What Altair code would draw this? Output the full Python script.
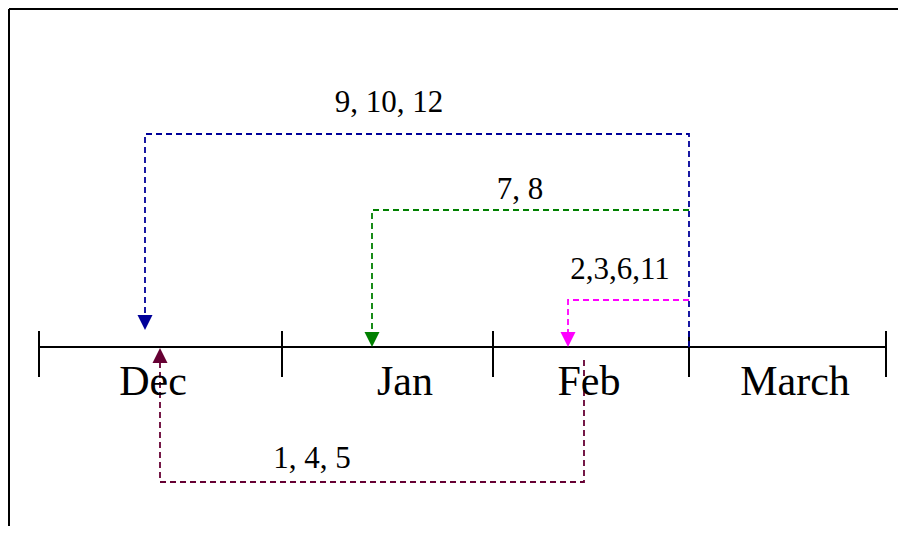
import altair as alt
import pandas as pd

# ---- data -------------------------------------------------------------
months = ["Dec", "Jan", "Feb", "March"]
month_edges = [39, 282, 493, 689, 886]
month_label_x = [153, 405, 589, 795]

groups = ["9, 10, 12", "7, 8", "2,3,6,11", "1, 4, 5"]
group_colors = ["#000099", "#008000", "#FF00FF", "#660033"]
src_x = [689, 689, 689, 584]      # where each move leaves
src_y = [347, 210, 300, 360]
level_y = [134, 210, 300, 482]    # height of the horizontal run
dst_x = [145, 372, 568, 160]      # where each move lands
tip_y = [330, 347, 347, 348]
pointing = ["down", "down", "down", "up"]
label_x = [389, 520, 620, 312]
label_y = [112, 199, 279, 468]

AXIS_Y = 347
TICK_TOP, TICK_BOTTOM = 331, 377
MONTH_LABEL_Y = 395
ARROW = 15

W, H = 890, 518
X0, Y0 = 8, 8

# ---- tables -------------------------------------------------------------
path_rows = []
for g, c, sx, sy, ly, dx, ty, p in zip(groups, group_colors, src_x, src_y,
                                       level_y, dst_x, tip_y, pointing):
    end_y = ty - ARROW if p == "down" else ty + ARROW
    pts = [(sx, sy), (sx, ly), (dx, ly), (dx, end_y)]
    for i, (x, y) in enumerate(pts):
        path_rows.append({"group": g, "color": c, "i": i, "x": x, "y": y})
paths = pd.DataFrame(path_rows)

arrows = pd.DataFrame({
    "group": groups, "color": group_colors, "x": dst_x,
    "y": [t - ARROW / 2 if p == "down" else t + ARROW / 2
          for t, p in zip(tip_y, pointing)],
    "pointing": pointing,
})

labels = pd.DataFrame({"text": groups, "x": label_x, "y": label_y})
month_df = pd.DataFrame({"text": months, "x": month_label_x,
                         "y": [MONTH_LABEL_Y] * len(months)})
edges_df = pd.DataFrame({"x": month_edges,
                         "y": [TICK_TOP] * len(month_edges),
                         "y2": [TICK_BOTTOM] * len(month_edges)})
axis_df = pd.DataFrame({"x": [month_edges[0]], "x2": [month_edges[-1]],
                        "y": [AXIS_Y]})
frame_df = pd.DataFrame({"x": [9, 9], "x2": [X0 + W, 9],
                         "y": [9, 9], "y2": [9, Y0 + H]})

xs = alt.Scale(domain=[X0, X0 + W], nice=False, zero=False)
ys = alt.Scale(domain=[Y0, Y0 + H], nice=False, zero=False, reverse=True)
X = lambda f="x": alt.X(f"{f}:Q", scale=xs, axis=None)
Y = lambda f="y": alt.Y(f"{f}:Q", scale=ys, axis=None)

frame = alt.Chart(frame_df).mark_rule(color="black", strokeWidth=2).encode(
    x=X(), x2="x2:Q", y=Y(), y2="y2:Q")

axis_line = alt.Chart(axis_df).mark_rule(color="black", strokeWidth=2).encode(
    x=X(), x2="x2:Q", y=Y())

ticks = alt.Chart(edges_df).mark_rule(color="black", strokeWidth=2).encode(
    x=X(), y=Y(), y2="y2:Q")

lines = alt.Chart(paths).mark_line(strokeDash=[6, 4], strokeWidth=1.8,
                                   interpolate="linear").encode(
    x=X(), y=Y(), detail="group:N", order="i:Q",
    color=alt.Color("color:N", scale=None))

down = alt.Chart(arrows).transform_filter(alt.datum.pointing == "down").mark_point(
    shape="M-1,-1L1,-1L0,1Z", filled=True, opacity=1, size=ARROW * ARROW,
    strokeWidth=0).encode(x=X(), y=Y(), color=alt.Color("color:N", scale=None))

up = alt.Chart(arrows).transform_filter(alt.datum.pointing == "up").mark_point(
    shape="M-1,1L1,1L0,-1Z", filled=True, opacity=1, size=ARROW * ARROW,
    strokeWidth=0).encode(x=X(), y=Y(), color=alt.Color("color:N", scale=None))

group_text = alt.Chart(labels).mark_text(
    font="Liberation Serif", fontSize=31, color="black",
    align="center", baseline="alphabetic").encode(x=X(), y=Y(), text="text:N")

month_text = alt.Chart(month_df).mark_text(
    font="Liberation Serif", fontSize=42, color="black",
    align="center", baseline="alphabetic").encode(x=X(), y=Y(), text="text:N")

chart = alt.layer(frame, axis_line, ticks, lines, down, up, group_text,
                  month_text).properties(
    width=W, height=H, padding=0,
    autosize=alt.AutoSizeParams(type="none"),
).configure_view(stroke=None)

chart.save("out.html", embed_options={"renderer": "svg", "actions": False})
